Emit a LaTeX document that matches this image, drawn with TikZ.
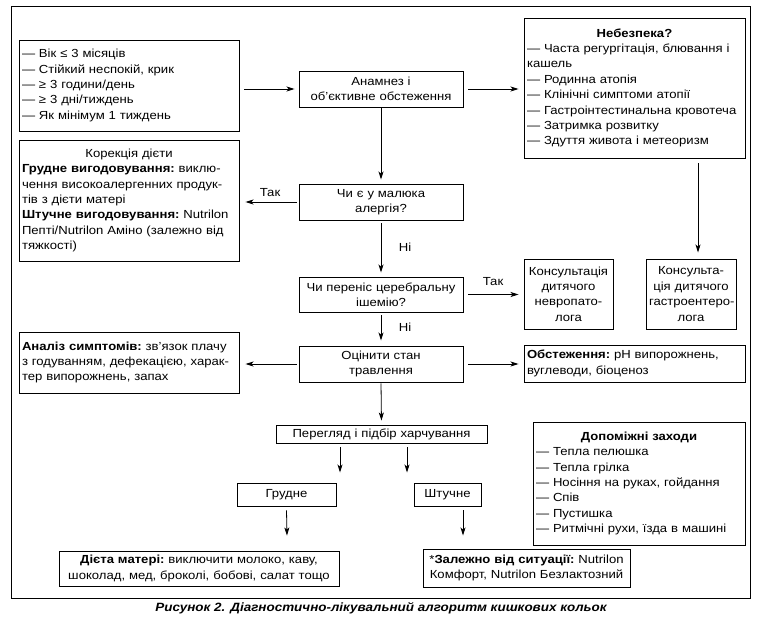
\documentclass[tikz,border=0pt]{standalone}
\usepackage{fontspec}
\setmainfont{Liberation Sans}[FakeStretch=1.12]
\usetikzlibrary{arrows.meta,calc}
\newcommand{\fsz}{\fontsize{11.7}{15.4}\selectfont\frenchspacing\hyphenpenalty=10000\exhyphenpenalty=10000}
\newcommand{\ml}[1]{\mbox{#1}}
\tikzset{
  box/.style={draw, line width=0.95pt, inner xsep=3pt, inner ysep=0pt, font=\fsz},
  lbl/.style={inner sep=0pt, font=\fsz},
  arr/.style={-{Stealth[length=8pt,width=5pt,inset=2pt]}, line width=0.8pt},
}
\begin{document}
\begin{tikzpicture}[x=1pt,y=-1pt]
\useasboundingbox (0,0) rectangle (759,623);
\draw[line width=1pt] (11,7) rectangle (750,598);

\node[box, text width=214pt, minimum height=91pt, align=left] (crit) at (129,85.5)
  {\ml{— Вік ≤ 3 місяців}\\\ml{— Стійкий неспокій, крик}\\\ml{— ≥ 3 години/день}\\\ml{— ≥ 3 дні/тиждень}\\\ml{— Як мінімум 1 тиждень}};
\node[box, text width=158pt, minimum height=36pt, align=center] (anam) at (381,89)
  {Анамнез і\\\ml{об'єктивне обстеження}};
\node[box, text width=215pt, minimum height=140pt, align=left] (neb) at (634.5,88)
  {{\centering\textbf{Небезпека?}\par}
   \ml{— Часта регургітація, блювання і}\\\ml{кашель}\\\ml{— Родинна атопія}\\\ml{— Клінічні симптоми атопії}\\\ml{— Гастроінтестинальна кровотеча}\\\ml{— Затримка розвитку}\\\ml{— Здуття живота і метеоризм}};
\node[box, text width=214pt, minimum height=121pt, align=left] (kor) at (129,200.5)
  {{\centering Корекція дієти\par}
   \ml{\textbf{Грудне вигодовування:} виклю-}\\\ml{чення високоалергенних продук-}\\\ml{тів з дієти матері}\\\ml{\textbf{Штучне вигодовування:} Nutrilon}\\\ml{Пепті/Nutrilon Аміно (залежно від}\\\ml{тяжкості)}};
\node[box, text width=158pt, minimum height=36pt, align=center] (aler) at (381,202)
  {Чи є у малюка\\алергія?};
\node[box, text width=158pt, minimum height=35pt, align=center] (cereb) at (381,294.5)
  {\ml{Чи переніс церебральну}\\ішемію?};
\node[box, text width=83pt, minimum height=70pt, align=center] (neuro) at (568.5,294)
  {\ml{Консультація}\\дитячого\\\ml{невропато-}\\лога};
\node[box, text width=84pt, minimum height=70pt, align=center] (gastro) at (691,294)
  {\ml{Консульта-}\\\ml{ція дитячого}\\\ml{гастроентеро-}\\лога};
\node[box, text width=158pt, minimum height=36pt, align=center] (trav) at (381,364)
  {Оцінити стан\\травлення};
\node[box, text width=214pt, minimum height=61pt, align=left] (anal) at (129,362.5)
  {\ml{\textbf{Аналіз симптомів:} зв'язок плачу}\\\ml{з годуванням, дефекацією, харак-}\\\ml{тер випорожнень, запах}};
\node[box, text width=215pt, minimum height=37pt, align=left] (obst) at (634.5,363.5)
  {\ml{\textbf{Обстеження:} pH випорожнень,}\\\ml{вуглеводи, біоценоз}};
\node[box, text width=205pt, minimum height=18pt, align=center] (perg) at (381.5,434)
  {\ml{Перегляд і підбір харчування}};
\node[box, text width=93pt, minimum height=23pt, align=center] (grud) at (286.5,494.5)
  {Грудне};
\node[box, text width=61pt, minimum height=23pt, align=center] (shtuch) at (447.5,494.5)
  {Штучне};
\node[box, text width=274pt, minimum height=35pt, align=center] (dieta) at (199,568.5)
  {\ml{\textbf{Дієта матері:} виключити молоко, каву,}\\\ml{шоколад, мед, броколі, бобові, салат тощо}};
\node[box, text width=201pt, minimum height=38pt, align=center] (zal) at (526.5,568)
  {\ml{*\textbf{Залежно від ситуації:} Nutrilon}\\\ml{Комфорт, Nutrilon Безлактозний}};
\node[box, text width=206pt, minimum height=123pt, align=left] (dop) at (639,483.5)
  {{\centering\textbf{Допоміжні заходи}\par}
   \ml{— Тепла пелюшка}\\\ml{— Тепла грілка}\\\ml{— Носіння на руках, гойдання}\\\ml{— Спів}\\\ml{— Пустишка}\\\ml{— Ритмічні рухи, їзда в машині}};

\node[lbl] (tak1) at (270,193) {Так};
\node[lbl] (ni1) at (405,247) {Ні};
\node[lbl] (tak2) at (493,282) {Так};
\node[lbl] (ni2) at (405,327) {Ні};

\draw[arr, shorten <=5pt, shorten >=4pt] (crit.east |- anam.west) -- (anam.west);
\draw[arr, shorten <=5pt, shorten >=5pt] (anam.east) -- (neb.west |- anam.east);
\draw[arr, shorten <=1pt, shorten >=4pt] (anam.south) -- (aler.north);
\draw[arr, shorten <=2pt, shorten >=6pt] (aler.west) -- (kor.east |- aler.west);
\draw[arr, shorten <=3pt, shorten >=4pt] (aler.south) -- (cereb.north);
\draw[arr, shorten <=5pt, shorten >=5pt] (cereb.east) -- (neuro.west |- cereb.east);
\draw[arr, shorten <=5pt, shorten >=6pt] ([xshift=7pt]gastro.north |- neb.south) -- ([xshift=7pt]gastro.north);
\draw[arr, shorten <=3pt, shorten >=5pt] (cereb.south) -- (trav.north);
\draw[arr, shorten <=2pt, shorten >=6pt] (trav.west) -- (anal.east |- trav.west);
\draw[arr, shorten <=5pt, shorten >=5pt] (trav.east) -- (obst.west |- trav.east);
\draw[arr, shorten <=1pt, shorten >=4pt] (trav.south) -- (perg.north);
\draw[arr] ([xshift=-41.5pt,yshift=-4pt]perg.south) -- ([xshift=53.5pt,yshift=10pt]grud.north);
\draw[arr] ([xshift=25.5pt,yshift=-4pt]perg.south) -- ([xshift=-40.5pt,yshift=10pt]shtuch.north);
\draw[arr] ([yshift=-4pt]grud.south) -- ([xshift=88pt,yshift=15pt]dieta.north);
\draw[arr] ([xshift=15.5pt,yshift=-4pt]shtuch.south) -- ([xshift=-63.5pt,yshift=13pt]zal.north);

\node[font=\fontsize{12}{14}\selectfont\bfseries\itshape, inner sep=0pt] (cap) at (381,608)
  {Рисунок 2. Діагностично-лікувальний алгоритм кишкових кольок};
\end{tikzpicture}
\end{document}
